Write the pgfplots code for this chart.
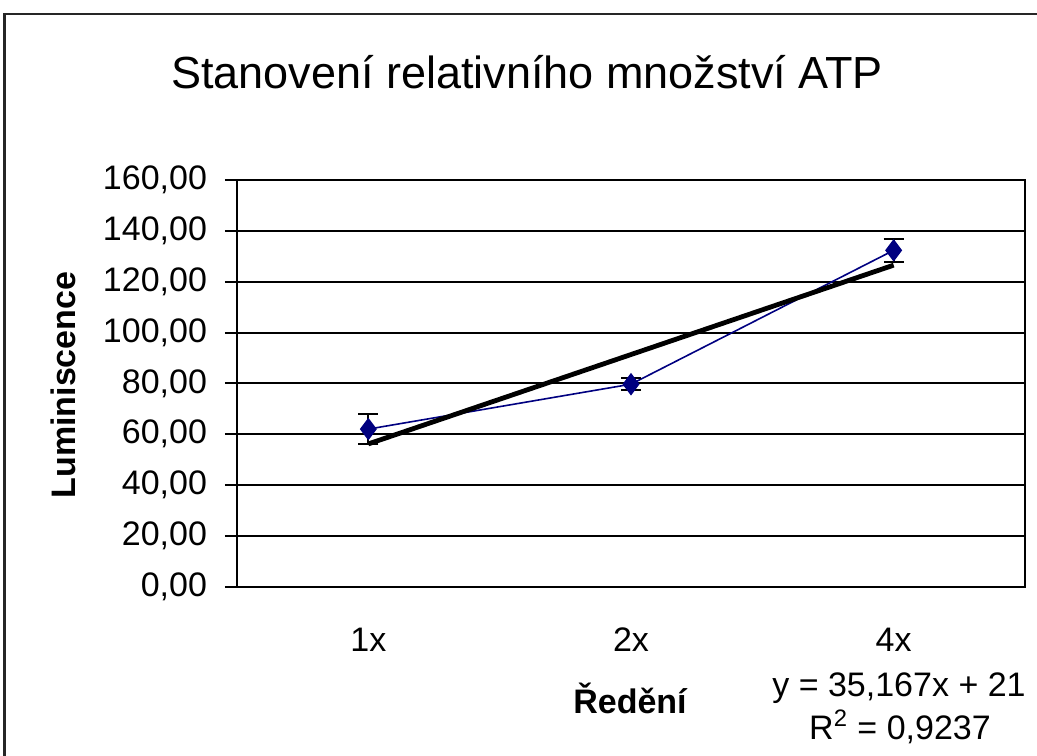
\documentclass[border=0pt]{standalone}
\usepackage{fontspec}
\setmainfont{Liberation Sans}
\usepackage{pgfplots}
\pgfplotsset{compat=1.18}
\definecolor{navy}{HTML}{000080}
\begin{document}
\begin{tikzpicture}
\useasboundingbox (0,0) rectangle (518.5bp,378bp);
\begin{scope}
\clip (0,0) rectangle (518.5bp,378bp);
\draw[line width=1.3bp, black!85] (2.2bp,371bp) rectangle (600bp,-50bp);
\end{scope}
\begin{axis}[
  at={(118.5bp,84.65bp)}, anchor=south west,
  scale only axis, width=394bp, height=203.35bp,
  xmin=0.5, xmax=3.5, ymin=0, ymax=160,
  axis line style={line width=1bp, black},
  ytick={0,20,...,160},
  xtick={1,2,3}, xticklabels={1x,2x,4x},
  minor xtick={0.5,1.5,2.5,3.5},
  xtick pos=bottom, ytick pos=left,
  tick align=outside,
  major tick length=6bp, minor tick length=6bp,
  xtick style={draw=none},
  minor x tick style={line width=1bp, black},
  y tick style={line width=1bp, black},
  ymajorgrids, grid style={line width=1bp, black},
  /pgf/number format/.cd, fixed, fixed zerofill, precision=2, use comma, assume math mode=true,
  /pgfplots/.cd,
  tick label style={font=\fontsize{17bp}{20bp}\selectfont},
  yticklabel style={xshift=-5.5bp},
  xticklabel style={yshift=-11bp},
  clip=false,
]
\addplot[navy, line width=0.8bp, mark=diamond*, mark size=5bp,
  mark options={navy, solid},
  error bars/.cd, y dir=both, y explicit,
  error bar style={black, line width=1bp},
  error mark options={rotate=90, mark size=5bp, black, line width=1bp}]
  coordinates {(1,62.0) +- (0,6.0) (2,79.67) +- (0,2.3) (3,132.33) +- (0,4.5)};
\addplot[black, line width=2.4bp] coordinates {(1,56.167) (3,126.5)};
\end{axis}
\node[font=\fontsize{22.5bp}{26bp}\selectfont] at (263.5bp,342bp) {Stanovení relativního množství ATP};
\node[font=\fontsize{17bp}{20bp}\selectfont\bfseries, rotate=90] at (31.5bp,185.5bp) {Luminiscence};
\node[font=\fontsize{17bp}{20bp}\selectfont\bfseries] at (315bp,29bp) {Ředění};
\node[font=\fontsize{17bp}{20bp}\selectfont] at (449.5bp,34bp) {y = 35,167x + 21};
\node[font=\fontsize{17bp}{20bp}\selectfont] at (450bp,14.5bp) {R\textsuperscript{2} = 0,9237};
\end{tikzpicture}
\end{document}
